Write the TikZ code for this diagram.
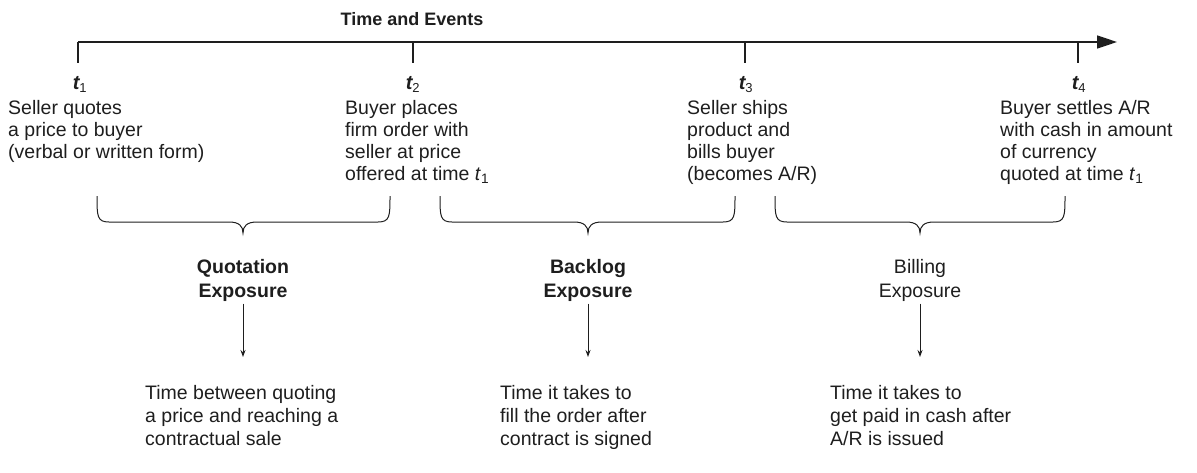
\documentclass[tikz,border=0pt]{standalone}
\usepackage{fontspec}
\setmainfont{Liberation Sans}
\usetikzlibrary{arrows.meta}
\definecolor{ink}{HTML}{1E1E1E}
\newcommand\bracepath[3]{%
  \draw[bracestyle] (#1,196) .. controls (#1,216) and (#1,222) .. ({#1+12},222)
    -- ({#3-14},222) .. controls ({#3-4},222) and (#3,226) .. (#3,233)
    .. controls (#3,226) and ({#3+4},222) .. ({#3+14},222)
    -- ({#2-12},222) .. controls (#2,222) and (#2,216) .. (#2,196);}
\begin{document}
\begin{tikzpicture}[x=1pt,y=-1pt,
  txt/.style={anchor=north west, inner sep=0pt, align=left, text=ink,
    font=\fontsize{19.5}{22}\selectfont},
  lowtxt/.style={txt, font=\fontsize{19.5}{23}\selectfont},
  lab/.style={anchor=north, inner sep=0pt, align=center, text=ink,
    font=\fontsize{19.5}{24}\selectfont\bfseries},
  tlab/.style={anchor=base, inner sep=0pt, text=ink,
    font=\fontsize{20}{22}\selectfont\bfseries\itshape},
  axisline/.style={draw=ink, line width=1.6pt, -{Triangle[length=20pt,width=13pt]}},
  tick/.style={draw=ink, line width=1.8pt},
  bracestyle/.style={draw=ink, line width=1pt},
  link/.style={draw=ink, line width=1pt, -{Stealth[length=7pt,width=5pt]}}]
\useasboundingbox (0,0) rectangle (1197,472);

% title and axis
\node[anchor=base, inner sep=0pt, text=ink, font=\fontsize{18}{22}\selectfont\bfseries] (title) at (412,25) {Time and Events};
\coordinate (axs) at (78,42);
\coordinate (axe) at (1117,42);
\draw[axisline] (axs) -- (axe);
\foreach \x in {78,413,745,1078} \draw[tick] (\x,41.5) -- (\x,63);

% time labels
\node[tlab] (t1) at (80,89) {t\textsubscript{\normalfont\fontsize{13}{13}\selectfont 1}};
\node[tlab] (t2) at (413,89) {t\textsubscript{\normalfont\fontsize{13}{13}\selectfont 2}};
\node[tlab] (t3) at (746,89) {t\textsubscript{\normalfont\fontsize{13}{13}\selectfont 3}};
\node[tlab] (t4) at (1079,89) {t\textsubscript{\normalfont\fontsize{13}{13}\selectfont 4}};

% events
\node[txt] (ev1) at (8,100) {Seller quotes\\a price to buyer\\(verbal or written form)};
\node[txt] (ev2) at (345,100) {Buyer places\\firm order with\\seller at price\\offered at time \textit{t}\textsubscript{1}};
\node[txt] (ev3) at (687,100) {Seller ships\\product and\\bills buyer\\(becomes A/R)};
\node[txt] (ev4) at (1000,100) {Buyer settles A/R\\with cash in amount\\of currency\\quoted at time \textit{t}\textsubscript{1}};

% braces
\bracepath{97}{390}{243}
\bracepath{440}{735}{588}
\bracepath{775}{1065}{920}

% exposure labels
\node[lab] (q) at (243,259) {Quotation\\Exposure};
\node[lab] (b) at (588,259) {Backlog\\Exposure};
\node[lab, font=\fontsize{19.5}{24}\selectfont] (bi) at (920,259) {Billing\\Exposure};

% descriptions
\node[lowtxt] (qd) at (145,385) {Time between quoting\\a price and reaching a\\contractual sale};
\node[lowtxt] (bd) at (500,385) {Time it takes to\\fill the order after\\contract is signed};
\node[lowtxt] (bid) at (830,385) {Time it takes to\\get paid in cash after\\A/R is issued};

% arrows
\draw[link, shorten <=2pt, shorten >=28pt] (q.south) -- (q.south |- qd.north);
\draw[link, shorten <=2pt, shorten >=28pt] (b.south) -- (b.south |- bd.north);
\draw[link, shorten <=2pt, shorten >=28pt] (bi.south) -- (bi.south |- bid.north);
\end{tikzpicture}
\end{document}
